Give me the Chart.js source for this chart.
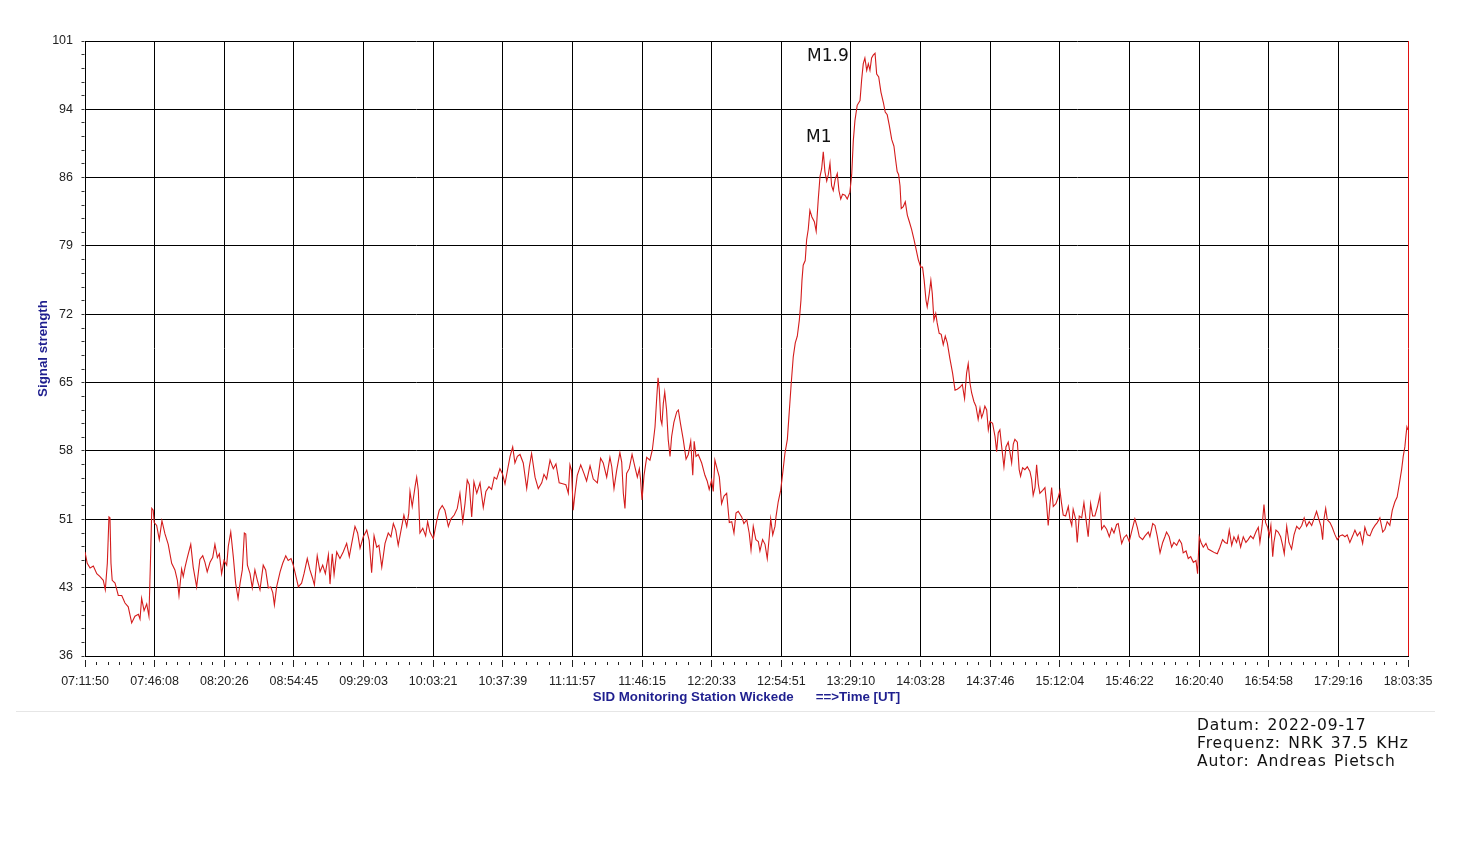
<!DOCTYPE html>
<html>
<head>
<meta charset="utf-8">
<title>SID Monitoring Station Wickede</title>
<script src="https://cdn.jsdelivr.net/npm/chart.js@4.4.0/dist/chart.umd.min.js"></script>
<style>
  body { margin: 0; background: #fff; }
  #wrap { position: relative; width: 1463px; height: 856px; }
  #sep { position: absolute; left: 16px; top: 711px; width: 1419px; height: 1px; background: #e6e6e6; }
  #info { position: absolute; left: 1197px; top: 716px; font: 15.5px "DejaVu Sans", sans-serif; line-height: 18px;
          letter-spacing: 0.9px; word-spacing: 1.5px; color: #111; white-space: nowrap; }
</style>
</head>
<body>
<div id="wrap">
  <canvas id="sidChart" width="1463" height="856"></canvas>
  <div id="sep"></div>
  <div id="info">Datum: 2022-09-17<br>Frequenz: NRK 37.5 KHz<br>Autor: Andreas Pietsch</div>
</div>
<script>
// x axis labels (UT), one per grid line
const timeLabels = ["07:11:50", "07:46:08", "08:20:26", "08:54:45", "09:29:03", "10:03:21", "10:37:39",
  "11:11:57", "11:46:15", "12:20:33", "12:54:51", "13:29:10", "14:03:28", "14:37:46", "15:12:04",
  "15:46:22", "16:20:40", "16:54:58", "17:29:16", "18:03:35"];
const yLabels = ["36", "43", "51", "58", "65", "72", "79", "86", "94", "101"];

// minutes after 07:11:50
const timeMin = [
  0.0, 1.1, 2.5, 4.1, 5.8, 7.4, 9.0, 10.0, 11.0, 11.8,
  12.3, 12.8, 13.4, 14.8, 16.4, 18.1, 19.7, 21.3, 23.0, 24.6,
  26.3, 27.1, 27.9, 29.1, 30.4, 31.5, 32.4, 32.9, 33.6, 34.1,
  35.3, 36.6, 37.9, 39.4, 41.0, 42.7, 44.3, 45.5, 46.3, 47.6,
  48.4, 49.3, 50.4, 52.1, 53.3, 55.0, 56.6, 58.0, 59.1, 60.2,
  61.6, 62.9, 64.0, 65.2, 66.2, 67.3, 68.5, 69.8, 70.6, 71.8,
  73.1, 74.2, 75.4, 76.4, 77.5, 78.5, 79.2, 80.0, 81.3, 82.4,
  83.7, 84.9, 86.2, 87.8, 89.0, 90.3, 91.5, 92.5, 93.3, 94.4,
  96.1, 97.4, 98.9, 100.1, 101.5, 102.6, 103.4, 105.1, 106.7, 107.9,
  109.5, 110.8, 112.0, 113.0, 114.4, 115.8, 117.1, 118.4, 119.9, 120.7,
  121.8, 122.7, 124.0, 125.6, 127.2, 128.9, 130.2, 131.4, 133.0, 134.3,
  135.5, 137.1, 138.8, 140.0, 141.2, 142.4, 143.7, 144.8, 146.2, 147.8,
  149.4, 150.7, 151.9, 153.1, 154.3, 155.7, 157.1, 158.5, 159.5, 160.1,
  161.2, 162.6, 163.4, 164.2, 165.0, 166.4, 167.8, 168.8, 169.9, 171.6,
  173.3, 174.5, 176.0, 177.3, 179.0, 180.3, 181.9, 183.4, 184.7, 186.1,
  187.2, 188.3, 189.3, 190.5, 191.6, 193.0, 194.6, 196.2, 197.5, 199.0,
  200.3, 201.6, 202.8, 204.4, 205.6, 206.9, 208.0, 209.4, 210.7, 211.8,
  213.0, 214.3, 215.9, 217.6, 218.9, 220.0, 221.7, 223.3, 225.0, 226.1,
  227.4, 229.1, 230.7, 232.0, 233.6, 235.3, 236.9, 238.1, 238.9, 239.7,
  240.5, 241.4, 242.5, 244.2, 245.8, 247.1, 248.8, 250.4, 252.4, 254.0,
  255.3, 257.0, 258.6, 259.5, 260.6, 261.9, 263.5, 264.4, 265.2, 266.0,
  266.8, 268.1, 269.5, 270.9, 272.1, 273.1, 273.7, 274.4, 275.4, 276.7,
  278.3, 279.5, 280.8, 281.6, 282.3, 282.9, 283.6, 284.2, 284.9, 285.6,
  286.5, 287.3, 288.2, 289.0, 290.1, 291.5, 292.3, 293.4, 294.7, 296.1,
  297.2, 298.4, 299.4, 300.1, 301.0, 302.1, 303.8, 305.4, 306.5, 307.5,
  308.7, 309.5, 310.3, 311.5, 312.5, 313.6, 314.8, 316.1, 317.4, 318.6,
  319.7, 320.7, 321.8, 323.5, 324.6, 326.0, 327.2, 328.1, 329.2, 330.5,
  331.7, 332.5, 333.8, 335.0, 336.1, 337.1, 337.8, 338.8, 339.9, 340.4,
  341.5, 342.7, 343.7, 344.8, 346.0, 346.9, 347.9, 348.9, 349.9, 350.9,
  351.9, 352.7, 353.2, 353.8, 354.8, 355.5, 356.3, 357.1, 358.1, 359.3,
  360.2, 361.2, 362.1, 362.9, 363.7, 364.5, 365.4, 366.2, 367.0, 367.8,
  368.6, 369.6, 370.6, 371.4, 372.3, 373.2, 374.4, 375.5, 376.8, 377.7,
  378.5, 379.3, 380.4, 381.8, 382.6, 383.4, 384.2, 385.1, 385.9, 386.7,
  387.5, 388.3, 389.2, 390.0, 391.0, 392.1, 393.3, 394.2, 395.2, 396.2,
  397.4, 398.5, 399.3, 400.1, 400.8, 401.5, 402.1, 403.1, 404.1, 405.1,
  406.1, 407.2, 408.4, 409.4, 410.5, 411.7, 412.6, 413.4, 414.3, 414.9,
  415.9, 416.7, 417.4, 418.2, 419.1, 419.8, 420.8, 421.8, 422.8, 423.8,
  424.8, 426.1, 427.4, 428.6, 429.7, 431.0, 432.2, 433.3, 434.3, 435.1,
  436.0, 436.8, 437.9, 438.9, 440.0, 440.9, 441.7, 442.5, 443.3, 444.2,
  445.0, 445.8, 447.1, 448.3, 449.1, 449.9, 450.7, 451.6, 452.7, 453.7,
  454.8, 456.0, 456.5, 457.3, 458.1, 459.3, 460.2, 460.9, 461.9, 463.0,
  464.2, 465.5, 466.3, 467.1, 468.0, 468.8, 469.6, 470.4, 471.8, 472.9,
  473.7, 474.5, 475.4, 476.2, 477.0, 478.3, 479.5, 480.3, 481.1, 481.9,
  483.1, 484.4, 485.2, 486.1, 486.8, 488.0, 488.8, 489.8, 491.0, 492.1,
  493.1, 494.2, 495.4, 496.4, 497.5, 498.8, 500.0, 500.8, 502.0, 503.3,
  504.6, 505.8, 506.9, 508.2, 509.0, 510.7, 511.8, 513.1, 514.4, 515.9,
  517.2, 518.4, 519.4, 521.0, 522.2, 523.8, 524.6, 526.0, 527.1, 528.2,
  529.6, 530.9, 532.0, 532.8, 534.1, 535.3, 536.4, 537.8, 539.1, 540.2,
  541.0, 542.4, 543.5, 544.7, 546.0, 547.3, 548.1, 548.9, 549.8, 550.9,
  552.2, 553.3, 555.0, 556.6, 557.8, 559.1, 560.4, 561.6, 562.7, 563.7,
  564.9, 566.0, 567.3, 568.1, 569.3, 570.6, 571.9, 573.0, 574.2, 575.5,
  576.8, 578.0, 578.8, 579.9, 580.8, 581.6, 582.6, 583.4, 584.2, 585.1,
  585.7, 586.7, 587.8, 589.0, 590.0, 590.8, 592.0, 593.1, 594.4, 595.6,
  596.9, 598.2, 599.4, 600.6, 601.8, 603.1, 604.3, 605.6, 606.7, 607.9,
  608.9, 609.7, 610.3, 611.2, 612.0, 613.3, 614.4, 615.8, 616.9, 618.2,
  619.5, 620.7, 621.8, 623.1, 624.5, 625.6, 626.8, 628.1, 629.4, 630.5,
  631.7, 633.0, 634.3, 635.5, 636.6, 637.9, 639.3, 640.4, 641.5, 642.8,
  644.0, 645.3, 646.4, 647.4, 648.6, 649.4, 650.2, 650.7, 651.2, 651.7
];

// signal strength, same order as timeMin
const signal = [
  47.0, 45.8, 45.3, 45.5, 44.7, 44.4, 44.0, 43.0, 45.8, 50.7,
  50.6, 45.8, 44.0, 43.7, 42.4, 42.4, 41.6, 41.2, 39.5, 40.2,
  40.4, 39.9, 42.1, 40.8, 41.5, 40.2, 47.2, 51.6, 51.4, 50.1,
  49.8, 48.3, 50.3, 48.9, 47.8, 45.8, 45.1, 44.0, 42.4, 45.2,
  44.4, 45.4, 46.4, 47.8, 45.4, 43.3, 46.2, 46.6, 45.9, 44.9,
  45.9, 46.4, 47.8, 46.4, 46.8, 44.7, 46.1, 45.6, 47.6, 49.1,
  46.4, 43.7, 42.1, 43.7, 45.1, 49.0, 48.9, 45.6, 44.7, 43.2,
  45.1, 44.0, 43.0, 45.6, 45.1, 43.2, 43.3, 42.7, 41.4, 43.3,
  44.9, 45.8, 46.6, 46.1, 46.3, 45.6, 44.9, 43.3, 43.7, 44.7,
  46.3, 45.1, 44.3, 43.5, 46.6, 44.9, 45.6, 44.7, 46.7, 43.6,
  46.8, 44.6, 47.0, 46.3, 47.0, 47.9, 46.5, 47.9, 49.7, 49.0,
  47.4, 48.6, 49.3, 48.2, 44.8, 48.7, 47.5, 47.7, 45.4, 47.9,
  49.0, 48.6, 50.0, 49.3, 47.7, 49.3, 50.9, 49.7, 51.1, 53.4,
  51.8, 53.9, 54.9, 53.5, 49.0, 49.5, 48.7, 50.2, 49.1, 48.4,
  50.3, 51.4, 51.9, 51.4, 49.7, 50.5, 50.9, 51.6, 53.2, 50.2,
  52.1, 54.6, 54.1, 50.7, 54.4, 53.2, 54.3, 51.7, 53.4, 53.9,
  53.6, 54.9, 54.7, 55.8, 55.3, 54.2, 55.5, 57.1, 58.1, 56.4,
  57.1, 57.3, 56.4, 53.7, 56.0, 57.4, 54.9, 53.7, 54.3, 55.2,
  54.7, 56.7, 55.8, 56.3, 54.3, 54.2, 54.1, 53.2, 56.2, 55.6,
  51.4, 53.2, 55.1, 56.2, 55.3, 54.5, 56.1, 54.7, 54.3, 56.9,
  56.4, 54.9, 57.0, 56.0, 53.7, 55.6, 57.5, 56.5, 53.2, 51.6,
  55.3, 55.8, 57.3, 56.0, 54.9, 55.8, 54.6, 52.5, 55.1, 57.0,
  56.7, 57.8, 60.2, 63.1, 65.4, 64.2, 61.0, 60.5, 62.7, 63.9,
  62.0, 58.9, 57.1, 59.2, 60.7, 61.8, 62.0, 60.5, 58.9, 56.8,
  57.3, 58.7, 55.1, 58.7, 57.1, 57.3, 56.4, 55.1, 54.5, 53.6,
  54.6, 53.4, 56.7, 55.7, 54.9, 52.1, 52.9, 53.2, 50.1, 50.2,
  49.0, 51.1, 51.3, 50.7, 50.0, 50.4, 49.0, 47.2, 49.7, 48.3,
  48.1, 47.1, 48.3, 47.8, 46.3, 48.6, 50.5, 48.8, 49.7, 50.7,
  52.3, 53.5, 55.3, 57.4, 58.9, 61.7, 64.8, 67.6, 69.1, 69.8,
  71.5, 73.6, 75.7, 77.3, 77.8, 80.0, 81.1, 83.1, 82.4, 81.9,
  80.9, 84.2, 86.7, 87.5, 89.3, 87.2, 86.2, 86.9, 88.1, 85.7,
  85.2, 86.4, 87.0, 85.2, 84.3, 84.8, 84.7, 84.3, 85.0, 86.9,
  90.5, 92.6, 94.2, 94.7, 96.9, 98.6, 99.2, 97.9, 98.6, 97.9,
  99.2, 99.5, 99.7, 97.5, 97.2, 95.6, 94.5, 93.5, 93.2, 92.1,
  90.6, 89.9, 88.5, 87.2, 86.9, 85.7, 83.3, 83.5, 84.0, 82.6,
  81.9, 81.1, 80.0, 79.0, 77.9, 77.1, 77.1, 75.7, 73.6, 72.9,
  74.3, 75.7, 74.3, 71.5, 72.2, 71.2, 70.1, 70.0, 68.9, 69.8,
  69.1, 67.4, 65.9, 64.1, 64.2, 64.4, 64.7, 63.2, 65.9, 66.9,
  64.8, 63.8, 62.9, 62.4, 61.0, 62.2, 61.2, 61.7, 62.4, 62.0,
  59.9, 60.8, 60.6, 59.2, 57.6, 59.6, 59.9, 58.1, 56.0, 58.1,
  58.6, 57.1, 56.4, 58.4, 58.9, 58.6, 55.7, 55.0, 55.9, 55.7,
  56.0, 55.5, 54.7, 53.0, 53.8, 56.2, 54.2, 53.2, 53.5, 53.8,
  52.1, 49.8, 52.1, 53.8, 51.8, 52.1, 52.8, 53.5, 52.1, 50.9,
  50.8, 51.8, 50.5, 49.8, 51.5, 50.5, 48.0, 50.8, 50.6, 52.2,
  50.5, 48.6, 52.1, 50.8, 50.8, 51.8, 53.0, 49.4, 49.8, 49.4,
  48.6, 49.5, 49.0, 49.9, 50.0, 47.9, 48.5, 48.8, 48.1, 49.4,
  50.5, 49.6, 48.6, 48.3, 48.7, 49.1, 48.6, 50.0, 49.8, 48.7,
  46.9, 48.0, 48.6, 49.1, 48.6, 47.5, 48.0, 47.7, 48.3, 47.9,
  46.9, 47.1, 46.3, 46.5, 45.9, 46.1, 44.7, 48.6, 48.0, 47.5,
  47.9, 47.3, 47.1, 46.9, 46.8, 47.5, 48.3, 48.0, 47.9, 49.3,
  47.7, 48.6, 48.0, 48.7, 47.5, 48.6, 48.0, 48.3, 48.7, 48.4,
  49.1, 49.6, 48.0, 49.8, 52.0, 50.1, 49.6, 48.7, 49.8, 46.5,
  48.0, 49.3, 49.1, 48.6, 47.7, 46.8, 49.7, 48.0, 47.3, 48.8,
  49.7, 49.4, 49.8, 50.6, 49.7, 50.2, 49.8, 50.6, 51.3, 50.4,
  49.7, 48.3, 50.4, 51.6, 50.4, 50.1, 49.6, 48.8, 48.3, 48.7,
  48.8, 48.6, 48.8, 48.0, 48.7, 49.3, 48.7, 49.1, 47.9, 49.6,
  48.8, 48.7, 49.4, 49.8, 50.1, 50.6, 49.1, 49.4, 50.2, 49.8,
  51.4, 52.3, 52.8, 54.1, 55.7, 57.1, 58.1, 59.2, 60.2, 59.9
];

// flare marks: name, time (min after start), signal level of the text baseline
const flareNames = ["M1.9", "M1"];
const flareTime = [355.7, 355.2];
const flareLevel = [98.9, 90.3];

const spanMin = 651.75;        // 07:11:50 .. 18:03:35
const majorCount = 19;
const xMinor = 6;
const yMin = 36, yMax = 101;
const yMinor = 5;
const axisFont = { family: "'Liberation Sans', Arial, sans-serif", size: 12.5 };
const titleFont = { family: "'Liberation Sans', Arial, sans-serif", size: 13.3, weight: 'bold' };

const flareLabels = {
  id: 'flareLabels',
  afterDatasetsDraw(chart) {
    const { ctx, scales: { x, y } } = chart;
    ctx.save();
    ctx.font = '17px "DejaVu Sans"';
    ctx.fillStyle = '#111';
    ctx.textAlign = 'left';
    ctx.textBaseline = 'alphabetic';
    flareNames.forEach((name, i) => {
      ctx.fillText(name, x.getPixelForValue(flareTime[i]), y.getPixelForValue(flareLevel[i]));
    });
    ctx.restore();
  }
};

const points = timeMin.slice(0, Math.min(timeMin.length, signal.length)).map((t, i) => ({ x: t, y: signal[i] }));

const ctx = document.getElementById('sidChart').getContext('2d');
const sidChart = new Chart(ctx, {
  type: 'line',
  data: {
    datasets: [{
      data: points,
      borderColor: '#d41c1c',
      borderWidth: 1.1,
      pointRadius: 0,
      tension: 0,
      fill: false
    }]
  },
  options: {
    responsive: false,
    animation: false,
    events: [],
    layout: { padding: { top: 41, right: 55, left: 0, bottom: 0 } },
    plugins: { legend: { display: false }, tooltip: { enabled: false } },
    scales: {
      x: {
        type: 'linear',
        min: 0,
        max: spanMin,
        afterBuildTicks: s => {
          s.ticks = [];
          for (let i = 0; i <= majorCount * xMinor; i++) s.ticks.push({ value: i * spanMin / (majorCount * xMinor) });
        },
        afterFit: s => { s.height = 200; },
        ticks: {
          autoSkip: false, maxRotation: 0, minRotation: 0, padding: 7, color: '#222', font: axisFont,
          callback: (v, i) => i % xMinor === 0 ? timeLabels[i / xMinor] : ''
        },
        grid: {
          color: c => c.index === majorCount * xMinor ? '#e01010' : (c.index % xMinor === 0 ? '#000' : 'rgba(0,0,0,0)'),
          lineWidth: 1,
          tickLength: 11,
          tickColor: '#222',
          tickWidth: 1,
          tickBorderDash: c => c.index % xMinor === 0 ? [0, 3, 7, 30] : [0, 5, 3, 30]
        },
        border: { color: '#000', width: 1 },
        title: {
          display: true,
          text: 'SID Monitoring Station Wickede\u00a0\u00a0\u00a0\u00a0\u00a0\u00a0==>Time [UT]',
          color: '#1f1f8f',
          font: titleFont,
          padding: { top: 0, bottom: 151 }
        }
      },
      y: {
        min: yMin,
        max: yMax,
        afterBuildTicks: s => {
          s.ticks = [];
          for (let i = 0; i <= 9 * yMinor; i++) s.ticks.push({ value: yMin + i * (yMax - yMin) / (9 * yMinor) });
        },
        afterFit: s => { s.width = 85; },
        ticks: {
          padding: 4, color: '#222', font: axisFont, autoSkip: false,
          callback: (v, i) => i % yMinor === 0 ? yLabels[i / yMinor] : ''
        },
        grid: {
          color: c => c.index % yMinor === 0 ? '#000' : 'rgba(0,0,0,0)',
          lineWidth: 1,
          tickLength: 8,
          tickColor: '#333',
          tickWidth: 1,
          tickBorderDash: [0, 4.5, 3, 30]
        },
        border: { color: '#000', width: 1 },
        title: {
          display: true,
          text: 'Signal strength',
          color: '#1f1f8f',
          font: titleFont,
          padding: { top: 35, bottom: 0 }
        }
      }
    }
  },
  plugins: [flareLabels]
});
</script>
</body>
</html>
